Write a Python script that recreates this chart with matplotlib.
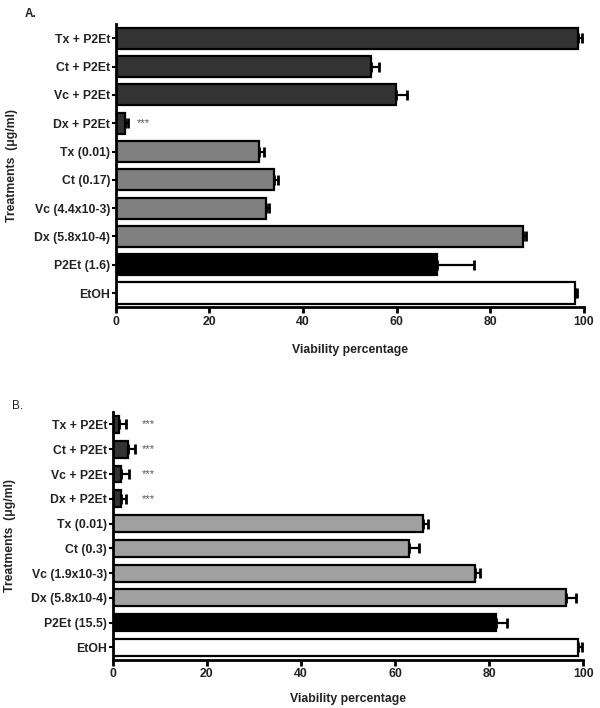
import matplotlib
matplotlib.use("Agg")
import matplotlib.pyplot as plt
import numpy as np

plt.rcParams['font.family'] = ['Liberation Sans', 'DejaVu Sans']

# panel A (top to bottom)
labels_a = ["Tx + P2Et", "Ct + P2Et", "Vc + P2Et", "Dx + P2Et", "Tx (0.01)",
            "Ct (0.17)", "Vc (4.4x10-3)", "Dx (5.8x10-4)", "P2Et (1.6)", "EtOH"]
values_a = [98.7, 54.5, 59.8, 2.0, 30.6, 33.8, 32.1, 87.0, 68.6, 98.1]
errors_a = [1.0, 1.7, 2.4, 0.6, 1.0, 0.8, 0.6, 0.6, 7.9, 0.5]
stars_a = ["", "", "", "***", "", "", "", "", "", ""]

# panel B (top to bottom)
labels_b = ["Tx + P2Et", "Ct + P2Et", "Vc + P2Et", "Dx + P2Et", "Tx (0.01)",
            "Ct (0.3)", "Vc (1.9x10-3)", "Dx (5.8x10-4)", "P2Et (15.5)", "EtOH"]
values_b = [1.3, 3.2, 1.7, 1.7, 66.0, 63.0, 77.0, 96.4, 81.5, 98.9]
errors_b = [1.5, 1.5, 1.7, 1.0, 1.0, 2.0, 1.0, 2.1, 2.3, 0.8]
stars_b = ["***", "***", "***", "***", "", "", "", "", "", ""]

colors_a = ["#333333"] * 4 + ["#808080"] * 4 + ["#000000", "#ffffff"]
colors_b = ["#333333"] * 4 + ["#a0a0a0"] * 4 + ["#000000", "#ffffff"]

FS = 8.8


def draw_panel(ax, labels, values, errors, stars, colors, height, star_x, xpad, tag, tag_pos, tag_bold):
    n = len(labels)
    y = np.arange(n)[::-1]
    ax.barh(y, values, height=height, color=colors, edgecolor="black", linewidth=1.6, zorder=2)
    ax.errorbar(values, y, xerr=[np.zeros(n), errors], fmt="none", ecolor="black",
                elinewidth=1.6, capsize=3.5, capthick=2, zorder=1)
    for yi, s in zip(y, stars):
        if s:
            ax.text(star_x, yi, s, va="center", ha="left", fontsize=8, color="#555555")
    ax.set_yticks(y)
    ax.set_yticklabels(labels, fontsize=FS, fontweight="bold", color="#222222")
    ax.set_xlim(0, 100)
    ax.set_ylim(-0.5, n - 0.5)
    ax.set_xticks([0, 20, 40, 60, 80, 100])
    ax.tick_params(axis="x", labelsize=FS, width=2, length=4, direction="out", pad=2)
    ax.tick_params(axis="y", width=1.5, length=3, direction="out", pad=1)
    for lab in ax.get_xticklabels():
        lab.set_fontweight("bold")
        lab.set_color("#222222")
    ax.spines["top"].set_visible(False)
    ax.spines["right"].set_visible(False)
    ax.spines["left"].set_linewidth(2)
    ax.spines["bottom"].set_linewidth(2)
    ax.set_xlabel("Viability percentage", fontsize=FS, fontweight="bold", color="#222222", labelpad=xpad)
    ax.set_ylabel("Treatments  (\u03bcg/ml)", fontsize=FS, fontweight="bold", color="#222222")
    ax.figure.text(tag_pos[0], tag_pos[1], tag, fontsize=8.5,
                   fontweight="bold" if tag_bold else "normal", color="#222222")


fig = plt.figure(figsize=(6, 7.08), dpi=100)
ax_a = fig.add_axes([0.193, 0.566, 0.780, 0.400])
ax_b = fig.add_axes([0.188, 0.068, 0.784, 0.350])

draw_panel(ax_a, labels_a, values_a, errors_a, stars_a, colors_a, 0.75, 4.5, 12, "A.", (0.042, 0.976), True)
draw_panel(ax_b, labels_b, values_b, errors_b, stars_b, colors_b, 0.68, 6.2, 9, "B.", (0.02, 0.422), False)

ax_a.yaxis.set_label_coords(-0.21, 0.5)
ax_b.yaxis.set_label_coords(-0.205, 0.5)

fig.savefig("out.png", dpi=100)
